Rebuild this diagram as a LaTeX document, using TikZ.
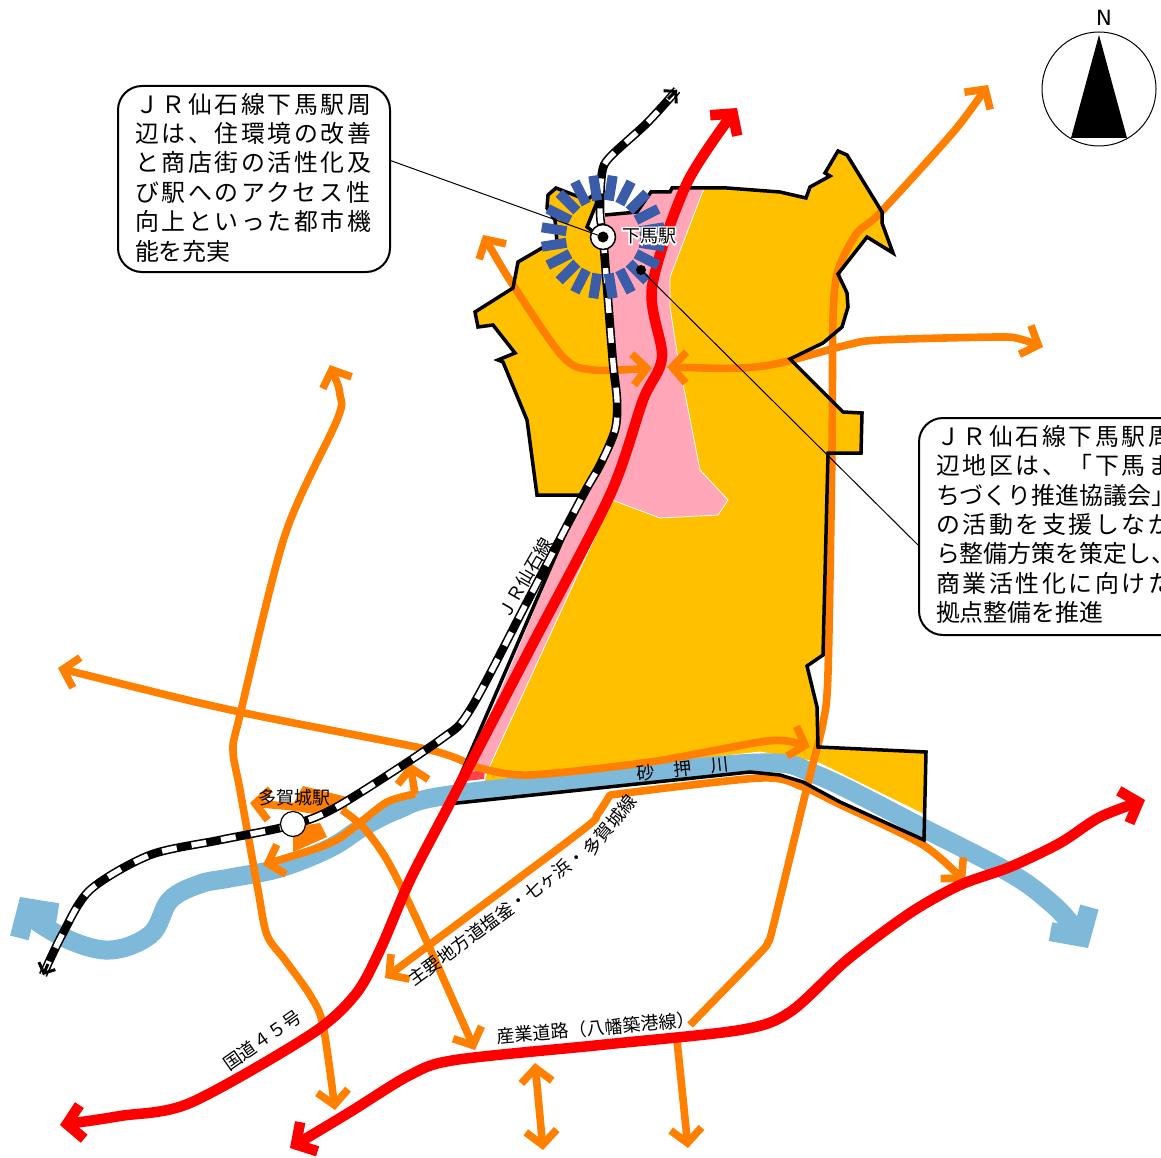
\documentclass[tikz,border=0pt]{standalone}
\usepackage{fontspec}
\setmainfont{Noto Sans CJK JP}
\newfontfamily\jpls[LetterSpace=11]{Noto Sans CJK JP}
\newfontfamily\jphalo[FakeBold=18]{Noto Sans CJK JP}
\newfontfamily\latinf{DejaVu Sans}
\usetikzlibrary{arrows.meta}
\definecolor{cyel}{HTML}{FFC000}
\definecolor{cpink}{HTML}{FFA7B9}
\definecolor{corg}{HTML}{FF8000}
\definecolor{criver}{HTML}{7FB9DA}
\definecolor{cblue}{HTML}{3B5CA8}
\tikzset{
 obarb/.tip={Straight Barb[length=14pt,width=31pt]},
 rbarb/.tip={Straight Barb[length=15pt,width=34pt]},
 wbarb/.tip={Straight Barb[length=21pt,width=46pt]},
 kbarb/.tip={Straight Barb[length=8pt,width=18pt]},
 oroad/.style={draw=corg,line width=7.6pt,line join=round},
 rroad/.style={draw=red,line width=10.5pt,line join=round},
 river/.style={draw=criver,line width=19pt},
 outline/.style={draw=black,line width=3.5pt,line join=miter},
 callout/.style={draw=black,line width=2pt,fill=white,rounded corners=24pt,anchor=north west,align=left,inner xsep=17pt,inner ysep=0pt,font=\fontsize{23.9}{29.4}\selectfont},
 lbl/.style={font=\fontsize{18}{20}\selectfont,inner sep=0pt},
 tick/.style={draw=cblue,line width=10pt},
}
\newcommand{\railpts}{(43,975) (62,935) (90,890) (150,855) (220,840) (292,825) (340,805) (440,740) (470,710) (526,604) (582,497) (600,465) (615,430) (617,400) (613,363) (607,287) (603,237) (600,213) (602,173) (610,157) (647,123) (677,90)}
\begin{document}
\begin{tikzpicture}[x=1pt,y=-1pt]
\useasboundingbox (0,0) rectangle (1161,1158);
\clip (0,0) rectangle (1161,1158);
% district fills
\fill[cpink] (605,215) -- (637,212) -- (651,192) -- (670,192) -- (672,188) -- (704,188) -- (670,277) -- (670,307) -- (677,353) -- (700,470) -- (728,500) -- (718,515) -- (660,518) -- (612,500) -- (487,772) -- (462,782) -- (582,497) -- (600,465) -- (615,430) -- (617,400) -- (613,363) -- (607,287) -- cycle;
\filldraw[fill=cyel,draw=white,line width=0.8pt] (704,188) -- (727,188) -- (780,192) -- (806,198) -- (810,187) -- (830,176) -- (825,173) -- (838,151) -- (847,155) -- (882,212) -- (882,223) -- (893,253) -- (867,237) -- (838,274) -- (847,293) -- (848,307) -- (842,327) -- (823,343) -- (790,359) -- (843,412) -- (862,413) -- (861,453) -- (828,453) -- (823,655) -- (807,666) -- (817,707) -- (818,747) -- (926,752) -- (925,815) -- (817,762) -- (760,752) -- (484,782) -- (487,772) -- (612,500) -- (660,518) -- (718,515) -- (728,500) -- (700,470) -- (677,353) -- (670,307) -- (670,277) -- cycle;
\fill[cyel] (537,495) -- (527,420) -- (503,362) -- (498,360) -- (515,353) -- (493,325) -- (478,327) -- (475,312) -- (513,288) -- (518,262) -- (542,248) -- (557,242) -- (555,220) -- (547,208) -- (548,195) -- (556,188) -- (587,200) -- (593,195) -- (597,202) -- (587,227) -- (595,233) -- (603,237) -- (607,287) -- (613,363) -- (617,400) -- (615,430) -- (600,465) -- (582,497) -- cycle;
\fill[red!60!cpink] (470,772) -- (485,770) -- (484,779) -- (466,781) -- cycle;
% river
\draw[river,{wbarb}-{wbarb}] plot[smooth,tension=0.6] coordinates {(20,897) (50,930) (105,950) (150,935) (170,900) (200,884) (230,878) (280,868) (330,848) (363,827) (397,810) (443,796) (600,778) (760,763) (817,775) (923,828) (1010,873) (1050,902) (1072,925) (1088,948)};
% orange roads
\draw[oroad,-{obarb}] (677,1040) -- (688,1148);
\draw[oroad,-{obarb}] plot[smooth,tension=0.45] coordinates {(690,1025) (760,953) (768,942) (773,927) (807,787) (823,723) (828,673) (832,450) (833,317) (838,270) (857,233) (880,213) (955,130) (988,85)};
\draw[oroad,{obarb}-{obarb}] plot[smooth,tension=0.5] coordinates {(483,235) (515,288) (563,357) (593,370) (652,368)};
\draw[oroad,{obarb}-{obarb}] plot[smooth,tension=0.5] coordinates {(667,367) (740,368) (780,363) (847,345) (880,340) (997,337) (1020,339) (1043,347)};
\draw[oroad,{obarb}-{obarb}] plot[smooth,tension=0.45] coordinates {(58,668) (240,712) (430,750) (480,768) (530,775) (650,762) (760,742) (787,741) (810,747)};
\draw[oroad,{obarb}-{obarb}] plot[smooth,tension=0.4] coordinates {(385,978) (580,832) (597,815) (610,795)} -- plot[smooth,tension=0.5] coordinates {(610,795) (760,778) (803,787) (837,803) (923,845) (965,882)};
\draw[oroad,{obarb}-{obarb}] plot[smooth,tension=0.5] coordinates {(330,365) (340,395) (337,420) (285,535) (240,715) (233,750) (240,790) (258,890) (267,935) (285,960) (310,995) (323,1025) (335,1110)};
\draw[oroad,{obarb}-] plot[smooth,tension=0.5] coordinates {(263,865) (330,843) (357,825) (387,802) (415,794)};
\draw[oroad,-{obarb}] (415,794) -- (410,763);
\draw[oroad,{obarb}-] (250,803) -- (297,807);
\fill[corg] (303,786) -- (347,797) -- (347,808) -- (320,815) -- (290,810) -- cycle;
\fill[corg] (293,827) -- (320,823) -- (327,837) -- (293,852) -- cycle;
\draw[oroad,-{obarb}] plot[smooth,tension=0.5] coordinates {(342,810) (363,827) (387,860) (417,920) (475,1050)};
\draw[oroad,{obarb}-{obarb}] (535,1063) -- (543,1150);
% district outline
\draw[outline] (605,215) -- (637,212) -- (651,192) -- (670,192) -- (672,188) -- (727,188) -- (780,192) -- (806,198) -- (810,187) -- (830,176) -- (825,173) -- (838,151) -- (847,155) -- (882,212) -- (882,223) -- (893,253) -- (867,237) -- (838,274) -- (847,293) -- (848,307) -- (842,327) -- (823,343) -- (790,359) -- (843,412) -- (862,413) -- (861,453) -- (828,453) -- (823,655) -- (807,666) -- (817,707) -- (818,747) -- (926,752) -- (924,840) -- (840,802) -- (803,782) -- (780,775) -- (750,772) -- (448,804) -- (582,495) -- (537,495) -- (527,420) -- (503,362) -- (498,360) -- (515,353) -- (493,325) -- (478,327) -- (475,312) -- (513,288) -- (518,262) -- (542,248) -- (557,242) -- (555,220) -- (547,208) -- (548,195) -- (556,188) -- (587,200) -- (593,195) -- (597,202) -- (587,227) -- (595,233);
% railway
\draw[black,line width=8.6pt] plot[smooth,tension=0.5] coordinates {\railpts};
\draw[white,line width=5.4pt,dash pattern=on 15pt off 15pt] plot[smooth,tension=0.5] coordinates {\railpts};
\draw[black,line width=3pt,-{kbarb}] (668,99) -- (677,90);
\draw[black,line width=3pt,-{kbarb}] (48,964) -- (43,975);
% red roads
\draw[rroad,{rbarb}-{rbarb}] plot[smooth,tension=0.5] coordinates {(60,1125) (120,1116) (190,1103) (310,1035) (355,995) (380,950) (410,880) (450,803) (530,649) (610,495) (643,400) (662,357) (652,287) (687,183) (737,108)};
\draw[rroad,{rbarb}-{rbarb}] plot[smooth,tension=0.5] coordinates {(290,1148) (350,1112) (410,1075) (455,1060) (600,1045) (740,1030) (790,1012) (847,960) (910,913) (960,885) (1010,867) (1060,843) (1100,817) (1145,800)};
% circle of ticks
\coordinate (shimoma) at (603,237);
\foreach \a in {9,27,...,351} {\draw[tick] (shimoma) ++(\a:37) -- ++(\a:25);}
% stations
\node[circle,draw=black,fill=white,line width=1.5pt,minimum size=25pt,inner sep=0pt] (stA) at (shimoma) {};
\fill[black] (shimoma) circle (5.5);
\node[circle,draw=black,fill=white,line width=1.2pt,minimum size=25pt,inner sep=0pt] (stB) at (293,824) {};
% callouts
\node[callout,text width=238pt,minimum height=186pt] (leftbox) at (117,85) {{\jpls ＪＲ仙石線下馬駅周}\\{\jpls 辺は、住環境の改善}\\{\jpls と商店街の活性化及}\\{\jpls び駅へのアクセス性}\\{\jpls 向上といった都市機}\\能を充実\rule[-5pt]{0pt}{1pt}};
\node[callout,text width=256pt,minimum height=217pt] (rightbox) at (918,417) {{\jpls ＪＲ仙石線下馬駅周}\\{\jpls 辺地区は、「下馬ま}\\ちづくり推進協議会」\\{\jpls の活動を支援しなが}\\ら整備方策を策定し、\\{\jpls 商業活性化に向けた}\\拠点整備を推進\rule[-6pt]{0pt}{1pt}};
\coordinate (la) at (389,160);
\coordinate (ra) at (918,545);
\coordinate (rb) at (641,270);
\draw[black,line width=1pt] (la) -- (shimoma);
\draw[black,line width=1pt] (ra) -- (rb);
\fill[black] (rb) circle (5);
% labels
\node[lbl,white] at (649,236) {\jphalo 下馬駅};
\node[lbl] (shimomaL) at (649,236) {下馬駅};
\node[lbl] (tagaL) at (294,798) {多賀城駅};
\node[lbl,rotate=60] at (525,578) {ＪＲ仙石線};
\node[lbl,rotate=36.5] at (497,917) {主要地方道塩釜・七ヶ浜・};
\node[lbl,rotate=51] at (610,825) {多賀城線};
\node[lbl,rotate=35] at (262,1040) {国道４５号};
\node[lbl,rotate=5] at (596,1028) {産業道路（八幡築港線）};
\node[lbl,rotate=6] at (683,769) {砂\hspace{19pt}押\hspace{19pt}川};
% compass
\node[circle,draw=black,line width=1pt,minimum size=114pt,inner sep=0pt] (comp) at (1099,89) {};
\fill[black] (1099,35) -- (1071,138) -- (1127,138) -- cycle;
\node[inner sep=0pt,font=\latinf\fontsize{21}{23}\selectfont] at (1104,18) {N};
\end{tikzpicture}
\end{document}
